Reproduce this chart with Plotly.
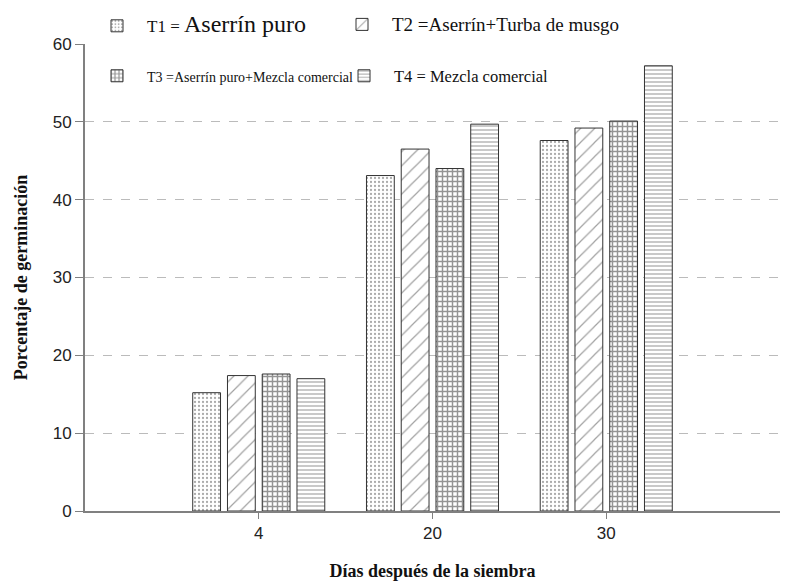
import plotly.graph_objects as go

days = ["4", "20", "30"]
t1 = [15.2, 43.1, 47.6]
t2 = [17.4, 46.5, 49.2]
t3 = [17.6, 44.0, 50.1]
t4 = [17.0, 49.7, 57.2]

names = [
    "T1 = <span style='font-size:24px'>Aserrín puro</span>",
    "<span style='font-size:19px'>T2 =Aserrín+Turba de musgo</span>",
    "<span style='font-size:14px'>T3 =Aserrín puro+Mezcla comercial</span>",
    "<span style='font-size:16.5px'>T4 = Mezcla comercial</span>",
]
series = [t1, t2, t3, t4]
patterns = [
    dict(shape=".", fgcolor="#555555", bgcolor="white", size=4, solidity=0.25),
    dict(shape="/", fgcolor="#444444", bgcolor="white", size=10, solidity=0.12),
    dict(shape="+", fgcolor="#2a2a2a", bgcolor="white", size=5, solidity=0.5),
    dict(shape="-", fgcolor="#777777", bgcolor="white", size=4, solidity=0.4),
]
legend_ids = ["legend", "legend2", "legend3", "legend4"]
legend_x = [0.0029, 0.3554, 0.0029, 0.3583]
legend_y = [1.038, 1.041, 0.931, 0.931]

fig = go.Figure()
for name, vals, pat, lg in zip(names, series, patterns, legend_ids):
    fig.add_trace(go.Bar(
        x=days, y=vals, name=name, legend=lg,
        marker=dict(color="white", pattern=pat, line=dict(color="#333333", width=1)),
    ))

serif = "Liberation Serif, Times New Roman, serif"
legend_layout = {}
for lg, lx, ly in zip(legend_ids, legend_x, legend_y):
    legend_layout[lg] = dict(
        orientation="h", x=lx, xanchor="left", y=ly, yanchor="middle",
        itemwidth=50, font=dict(family=serif, size=17, color="#111"),
        bgcolor="rgba(0,0,0,0)")

# page body has an 8px margin, so the figure is sized to fit the 788x582 window
fig.update_layout(
    width=780, height=574,
    margin=dict(l=77, r=8, t=36, b=71, autoexpand=False),
    paper_bgcolor="white", plot_bgcolor="white",
    barmode="group", bargap=0.2, bargroupgap=0.2,
    showlegend=True,
    **legend_layout,
    xaxis=dict(type="category", categoryorder="array", categoryarray=days,
               range=[-1, 3], showline=True, linecolor="#808080", linewidth=2,
               ticks="outside", ticklen=6, tickcolor="#808080",
               tickfont=dict(family="Liberation Sans, Arial", size=17, color="#222"),
               showgrid=False, automargin=False,
               title=dict(text="<b>Días después de la siembra</b>",
                          font=dict(family=serif, size=18, color="#111"), standoff=22)),
    yaxis=dict(range=[0, 60], tickvals=[0, 10, 20, 30, 40, 50, 60],
               showline=True, linecolor="#808080", linewidth=2,
               ticks="outside", ticklen=8, tickcolor="#808080",
               tickfont=dict(family="Liberation Sans, Arial", size=17, color="#222"),
               showgrid=True, gridcolor="#bbbbbb", griddash="dash", gridwidth=1,
               zeroline=False, automargin=False,
               title=dict(text="<b>Porcentaje de germinación</b>",
                          font=dict(family=serif, size=18, color="#111"), standoff=20)),
)

fig.write_html("out.html")
